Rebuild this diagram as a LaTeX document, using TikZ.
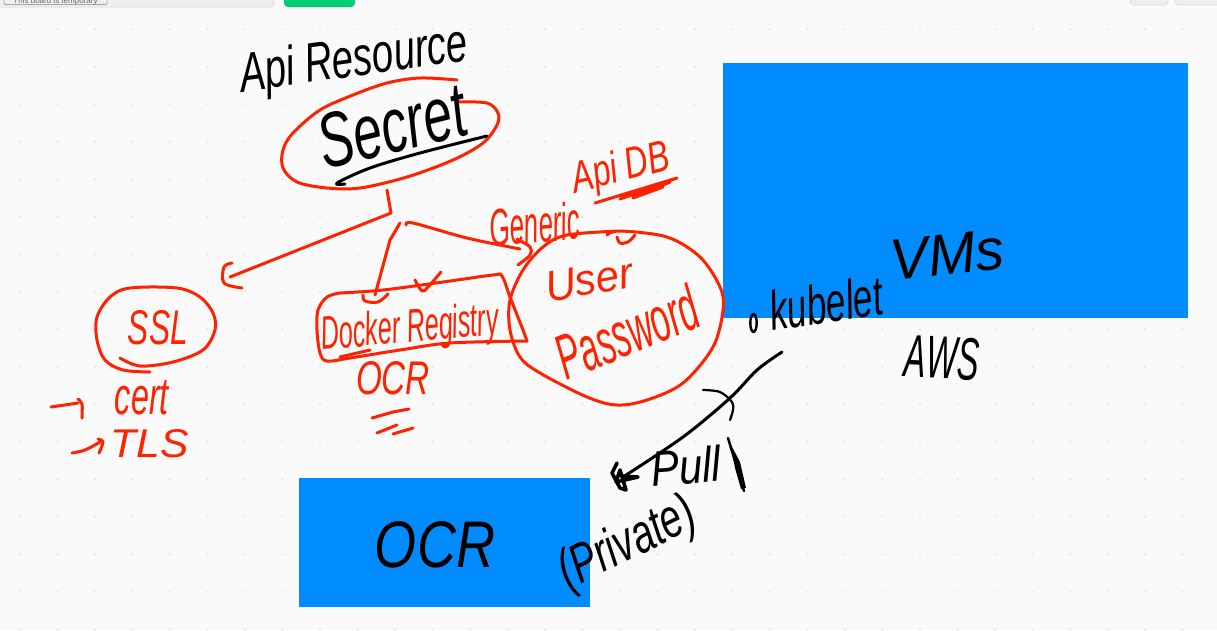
\documentclass[tikz,border=0pt]{standalone}
\usepackage{fontspec}
\usepackage{graphicx}
\setmainfont{Liberation Sans}
\definecolor{pagebg}{HTML}{FAFAFA}
\definecolor{griddot}{HTML}{E2E2E2}
\definecolor{boardblue}{HTML}{008CFF}
\definecolor{inkred}{HTML}{FF2200}
\definecolor{inkblack}{HTML}{000000}
\definecolor{barfill}{HTML}{EFEFEF}
\definecolor{barline}{HTML}{DADADA}
\definecolor{okgreen}{HTML}{00CC70}
\newcommand{\hw}[3]{\resizebox{#1pt}{#2pt}{\itshape #3}}
\tikzset{
  redink/.style={draw=inkred,line width=3pt,line cap=round,line join=round},
  blackink/.style={draw=inkblack,line width=3pt,line cap=round,line join=round},
  redtext/.style={text=inkred,inner sep=0pt},
  blacktext/.style={text=inkblack,inner sep=0pt},
  blueblock/.style={fill=boardblue,draw=none},
  barshape/.style={fill=barfill,draw=barline,line width=0.8pt,rounded corners=4pt},
  curvy/.style={smooth,tension=0.55}
}
\begin{document}
\begin{tikzpicture}[x=1pt,y=-1pt]
\useasboundingbox (0,0) rectangle (1217,630);
\clip (0,0) rectangle (1217,630);
\fill[pagebg] (0,0) rectangle (1217,630);
% grid of dots
\foreach \k in {0,...,32} {
  \foreach \j in {0,...,16} {
    \fill[griddot] ({20+37.5*\k},{29.3+37.5*\j}) circle (1.1);
  }
}
% top bar
\draw[barshape] (-6,-10) rectangle (274,7);
\draw[barshape,fill=barfill,draw=gray!70,rounded corners=1pt] (4,-10) rectangle (107,4.5);
\node[inner sep=0pt,text=gray!80!black,font=\fontsize{8}{9}\selectfont,anchor=base] (tempnote) at (55.5,3) {This board is temporary};
\fill[okgreen,rounded corners=4pt] (284,-10) rectangle (355,7);
\draw[barshape] (1130,-10) rectangle (1168,5);
\draw[barshape] (1175,-10) rectangle (1230,5);
% blue blocks
\node[blueblock,minimum width=465pt,minimum height=255pt,inner sep=0pt,anchor=north west] (vmsblock) at (723,63) {};
\node[blueblock,minimum width=291pt,minimum height=129pt,inner sep=0pt,anchor=north west] (ocrblock) at (299,478) {};

% named connector waypoints
\coordinate (secretfoot) at (387,190);
\coordinate (secretelbow) at (391,213);
\coordinate (sslend) at (230,277);
\coordinate (dockerstart) at (400,223);
\coordinate (dockerend) at (375,295);
\coordinate (genericstart) at (406,225);
\coordinate (genericend) at (520,249);
\coordinate (kubeletfoot) at (782,352);
\coordinate (ocrend) at (623,477);

% Secret blob
\draw[redink] plot[curvy] coordinates {(457,80) (420,78) (387,83) (353,95) (320,110) (293,133) (283,150) (283,168) (297,182) (327,188) (360,188) (407,177) (453,160) (483,143) (497,125) (498,113) (487,103) (457,102)};
\draw[blackink] plot[curvy] coordinates {(487,136) (420,153) (370,168) (337,183) (345,184)};
% SSL blob
\draw[redink] plot[curvy] coordinates {(150,372) (123,370) (105,360) (97,340) (97,317) (110,297) (130,288) (177,288) (200,297) (213,313) (215,330) (203,350) (173,362) (140,366) (120,358)};
% connector secret -> ssl
\draw[redink] (secretfoot) -- (secretelbow) -- (sslend);
\draw[redink] plot[curvy] coordinates {(232,263) (224,267) (224,283) (242,288)};
% connector -> docker
\draw[redink] (dockerstart) -- (390,240) -- (dockerend);
\draw[redink] plot[curvy] coordinates {(363,295) (365,301) (378,302) (388,294)};
% docker box
\draw[redink] plot[curvy] coordinates {(340,293) (327,297) (318,310) (317,330) (320,353) (327,361) (350,358) (400,350) (450,343) (527,341)};
\draw[redink] plot[curvy] coordinates {(527,341) (523,330) (510,297) (502,276) (493,275) (443,282) (383,290) (340,293)};
\draw[redink] (340,357) -- (370,350);
\draw[redink] plot[curvy] coordinates {(415,280) (422,291) (428,287) (441,272)};
% connector -> user
\draw[redink] plot[curvy] coordinates {(genericstart) (413,223) (467,238) (genericend)};
\draw[redink] plot[curvy] coordinates {(517,239) (530,247) (530,255) (518,265)};
% user blob
\draw[redink] plot[curvy] coordinates {(607,235) (620,231) (667,237) (700,257) (720,287) (723,310) (713,347) (683,383) (647,400) (617,405) (587,397) (540,373) (520,357) (510,330) (510,300) (523,270) (543,247) (567,235) (620,231)};
\draw[redink] plot[curvy] coordinates {(617,237) (620,243) (628,242) (635,235)};
% Api DB underline
\draw[redink] (595,203) -- (677,178) -- (620,199) -- (670,182) -- (633,198) -- (663,187);
% OCR red underlines
\draw[redink] (372,418) -- (393,412) -- (409,409);
\draw[redink] (377,433) -- (397,425);
\draw[redink] (393,434) -- (413,428);
% bullets
\draw[redink] (51,407) -- (78,403);
\draw[redink] plot[curvy] coordinates {(78,399) (82,404) (82,418)};
\draw[redink] plot[curvy] coordinates {(72,453) (85,450) (100,442)};
\draw[redink] plot[curvy] coordinates {(98,439) (103,442) (99,453)};
% kubelet bullet
\draw[blackink,line width=2.4pt] (753.5,323) ellipse (3.2 and 9);
% pull arrow
\draw[blackink] plot[curvy] coordinates {(kubeletfoot) (757,370) (730,398) (683,437) (ocrend)};
\draw[blackink,line width=3.6pt] (617,463) -- (612,473) -- (620,488) -- (626,490) -- (620,470) -- (616,482) -- (638,477) -- (622,476);
\draw[blackink,line width=2.2pt] plot[curvy] coordinates {(703,390) (720,392) (732,402) (733,410) (730,420)};
\draw[blackink,line width=2.5pt] (728,438) -- (744,491);
\fill[inkblack] (731,445) -- (740,462) -- (746,488) -- (741,489) -- (735,468) -- cycle;

% red labels
\node[redtext] (ssl) at (158,328) {\hw{60}{34}{SSL}};
\node[redtext] (cert) at (142,398) {\hw{54}{34}{cert}};
\node[redtext] (tls) at (150,444) {\hw{78}{28}{TLS}};
\node[redtext,rotate=5] (docker) at (410,330) {\hw{178}{34}{Docker Registry}};
\node[redtext] (ocrred) at (393,378) {\hw{74}{33}{OCR}};
\node[redtext,rotate=5] (generic) at (535,224) {\hw{90}{38}{Generic}};
\node[redtext,rotate=14] (apidb) at (621,170) {\hw{100}{32}{Api DB}};
\node[redtext,rotate=10] (user) at (589,280) {\hw{88}{30}{User}};
\node[redtext,rotate=22] (password) at (627,332) {\hw{148}{46}{Password}};
% black labels
\node[blacktext,rotate=8] (apires) at (354,62) {\hw{230}{40}{Api Resource}};
\node[blacktext,rotate=14] (secret) at (392,126) {\hw{150}{54}{Secret}};
\node[blacktext,rotate=8] (kubelet) at (826,303) {\hw{114}{40}{kubelet}};
\node[blacktext,rotate=6] (vms) at (947,255) {\hw{114}{40}{VMs}};
\node[blacktext,rotate=-3] (aws) at (942,358) {\hw{74}{42}{AWS}};
\node[blacktext] (ocrblack) at (435,545) {\hw{120}{46}{OCR}};
\node[blacktext,rotate=4] (pull) at (686,466) {\hw{70}{36}{Pull}};
\node[blacktext,rotate=26] (private) at (628,545) {\hw{146}{40}{(Private)}};
\end{tikzpicture}
\end{document}
